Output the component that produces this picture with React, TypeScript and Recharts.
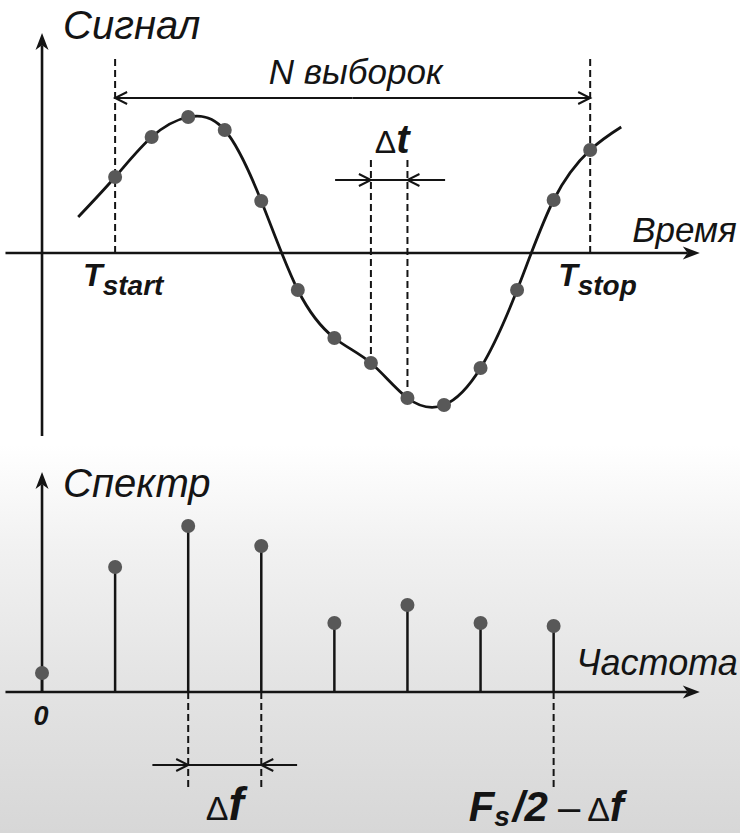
import React from "react";
import {
  ComposedChart,
  Area,
  Scatter,
  XAxis,
  YAxis,
  ReferenceLine,
  ReferenceDot,
} from "recharts";

// --- time domain: 14 samples (index, level) ---
const sampleIdx = [0, 1, 2, 3, 4, 5, 6, 7, 8, 9, 10, 11, 12, 13];
const sampleVal = [0.76, 1.16, 1.36, 1.23, 0.52, -0.37, -0.85, -1.1, -1.45, -1.52, -1.15, -0.37, 0.53, 1.03];
// where the drawn curve begins and ends (outside the sampled window)
const curveStart = { t: -1.01, v: 0.36 };
const curveEnd = { t: 13.85, v: 1.26 };

// --- frequency domain: 8 bins ---
const binIdx = [0, 1, 2, 3, 4, 5, 6, 7];
const binVal = [0.19, 1.25, 1.66, 1.46, 0.69, 0.87, 0.69, 0.66];

const samples = sampleIdx.map((t, i) => ({ t, v: sampleVal[i] }));
const curve = [curveStart, ...samples, curveEnd];
const bins = binIdx.map((f, i) => ({ f, v: binVal[i] }));

const INK = "#141414";
const DOT = "#585858";
const FONT = "'Liberation Sans', Arial, Helvetica, sans-serif";

// filled arrow head at (x2, y2)
const axisArrow = (p: any) => {
  const { x1, y1, x2, y2 } = p;
  const a = Math.atan2(y2 - y1, x2 - x1);
  const c = Math.cos(a), s = Math.sin(a);
  const L = 17, W = 6.5;
  const bx = x2 - L * c, by = y2 - L * s;
  const nx = x2 - L * 0.72 * c, ny = y2 - L * 0.72 * s;
  return (
    <g>
      <line x1={x1} y1={y1} x2={nx} y2={ny} stroke={INK} strokeWidth={2.6} />
      <polygon
        points={`${x2},${y2} ${bx - s * W},${by + c * W} ${nx},${ny} ${bx + s * W},${by - c * W}`}
        fill={INK}
      />
    </g>
  );
};

// open chevron at (x2, y2)
const openArrow = (p: any) => {
  const { x1, y1, x2, y2 } = p;
  const a = Math.atan2(y2 - y1, x2 - x1);
  const c = Math.cos(a), s = Math.sin(a);
  const L = 12, W = 6;
  const bx = x2 - L * c, by = y2 - L * s;
  return (
    <g stroke={INK} strokeWidth={2} fill="none">
      <line x1={x1} y1={y1} x2={x2} y2={y2} />
      <polyline points={`${bx - s * W},${by + c * W} ${x2},${y2} ${bx + s * W},${by - c * W}`} />
    </g>
  );
};

const plainLine = (p: any) => (
  <line x1={p.x1} y1={p.y1} x2={p.x2} y2={p.y2} stroke={INK} strokeWidth={2} />
);

const note = (render: (x: number, y: number) => React.ReactElement) => (p: any) => render(p.cx, p.cy);

const dotShape = (p: any) => <circle cx={p.cx} cy={p.cy} r={7} fill={DOT} />;

const dash = { stroke: INK, strokeWidth: 2, strokeDasharray: "7 4" };

export default function App() {
  return (
    <div
      style={{
        position: "absolute",
        left: 0,
        top: 0,
        width: 740,
        height: 833,
        background: "#fff",
        fontFamily: FONT,
      }}
    >
      <ComposedChart width={740} height={445} margin={{ top: 0, right: 0, bottom: 0, left: 0 }}>
        <XAxis type="number" dataKey="t" domain={[-3.15, 17.1]} allowDataOverflow hide />
        <YAxis type="number" dataKey="v" domain={[-1.92, 2.53]} allowDataOverflow hide />

        <ReferenceLine segment={[{ x: -3, y: 0 }, { x: 16, y: 0 }]} shape={axisArrow} />
        <ReferenceLine segment={[{ x: -2, y: -1.83 }, { x: -2, y: 2.2 }]} shape={axisArrow} />

        <ReferenceLine segment={[{ x: 0, y: 0 }, { x: 0, y: 1.95 }]} {...dash} />
        <ReferenceLine segment={[{ x: 13, y: 0 }, { x: 13, y: 1.95 }]} {...dash} />
        <ReferenceLine segment={[{ x: 7, y: 0.93 }, { x: 7, y: sampleVal[7] }]} {...dash} />
        <ReferenceLine segment={[{ x: 8, y: 0.93 }, { x: 8, y: sampleVal[8] }]} {...dash} />

        <ReferenceLine segment={[{ x: 6.5, y: 1.55 }, { x: 0, y: 1.55 }]} shape={openArrow} />
        <ReferenceLine segment={[{ x: 6.5, y: 1.55 }, { x: 13, y: 1.55 }]} shape={openArrow} />
        <ReferenceLine segment={[{ x: 6.02, y: 0.73 }, { x: 7, y: 0.73 }]} shape={openArrow} />
        <ReferenceLine segment={[{ x: 7, y: 0.73 }, { x: 8, y: 0.73 }]} shape={plainLine} />
        <ReferenceLine segment={[{ x: 9.03, y: 0.73 }, { x: 8, y: 0.73 }]} shape={openArrow} />

        <Area
          data={curve}
          dataKey="v"
          type="natural"
          stroke={INK}
          strokeWidth={2.8}
          fill="none"
          dot={false}
          activeDot={false}
          isAnimationActive={false}
        />
        <Scatter data={samples} dataKey="v" shape={dotShape} isAnimationActive={false} />

        <ReferenceDot
          x={-2}
          y={2.2}
          r={0}
          shape={note((x, y) => (
            <text x={x + 21} y={y + 6} fontSize={40} fontStyle="italic" fill={INK} fontFamily={FONT}>
              Сигнал
            </text>
          ))}
        />
        <ReferenceDot
          x={16}
          y={0}
          r={0}
          shape={note((x, y) => (
            <text x={x + 37} y={y - 11} fontSize={35} fontStyle="italic" fill={INK} textAnchor="end" fontFamily={FONT}>
              Время
            </text>
          ))}
        />
        <ReferenceDot
          x={6.5}
          y={1.55}
          r={0}
          shape={note((x, y) => (
            <text x={x + 3} y={y - 14} fontSize={35} fontStyle="italic" fill={INK} textAnchor="middle" fontFamily={FONT}>
              N выборок
            </text>
          ))}
        />
        <ReferenceDot
          x={7.5}
          y={0.73}
          r={0}
          shape={note((x, y) => (
            <text x={x + 3} y={y - 27} fill={INK} textAnchor="middle" fontFamily={FONT}>
              <tspan fontSize={32}>Δ</tspan>
              <tspan fontSize={40} fontWeight="bold" fontStyle="italic">t</tspan>
            </text>
          ))}
        />
        {[
          { t: 0, sub: "start" },
          { t: 13, sub: "stop" },
        ].map((m) => (
          <ReferenceDot
            key={m.sub}
            x={m.t}
            y={0}
            r={0}
            shape={note((x, y) => (
              <text x={x - 32} y={y + 33} fill={INK} fontWeight="bold" fontStyle="italic" fontFamily={FONT}>
                <tspan fontSize={32}>T</tspan>
                <tspan fontSize={28} dy={9}>{m.sub}</tspan>
              </text>
            ))}
          />
        ))}
      </ComposedChart>

      <div
        style={{
          width: 740,
          height: 388,
          background: "linear-gradient(to bottom, #ffffff 0%, #f2f2f2 25%, #e4e4e4 60%, #d7d7d7 100%)",
        }}
      >
        <ComposedChart width={740} height={388} margin={{ top: 0, right: 0, bottom: 0, left: 0 }}>
          <XAxis type="number" dataKey="f" domain={[-0.575, 9.55]} allowDataOverflow hide />
          <YAxis type="number" dataKey="v" domain={[-1.41, 2.47]} allowDataOverflow hide />

          <ReferenceLine segment={[{ x: -0.5, y: 0 }, { x: 9, y: 0 }]} shape={axisArrow} />
          <ReferenceLine segment={[{ x: 0, y: 0 }, { x: 0, y: 2.2 }]} shape={axisArrow} />

          {bins.map((b) => (
            <ReferenceLine
              key={b.f}
              segment={[{ x: b.f, y: 0 }, { x: b.f, y: b.v }]}
              stroke={INK}
              strokeWidth={2.5}
            />
          ))}

          <ReferenceLine segment={[{ x: 2, y: 0 }, { x: 2, y: -0.98 }]} {...dash} />
          <ReferenceLine segment={[{ x: 3, y: 0 }, { x: 3, y: -0.98 }]} {...dash} />
          <ReferenceLine segment={[{ x: 7, y: 0 }, { x: 7, y: -0.98 }]} {...dash} />

          <ReferenceLine segment={[{ x: 1.51, y: -0.73 }, { x: 2, y: -0.73 }]} shape={openArrow} />
          <ReferenceLine segment={[{ x: 2, y: -0.73 }, { x: 3, y: -0.73 }]} shape={plainLine} />
          <ReferenceLine segment={[{ x: 3.49, y: -0.73 }, { x: 3, y: -0.73 }]} shape={openArrow} />

          <Scatter data={bins} dataKey="v" shape={dotShape} isAnimationActive={false} />

          <ReferenceDot
            x={0}
            y={2.2}
            r={0}
            shape={note((x, y) => (
              <text x={x + 21} y={y + 25} fontSize={40} fontStyle="italic" fill={INK} fontFamily={FONT}>
                Спектр
              </text>
            ))}
          />
          <ReferenceDot
            x={9}
            y={0}
            r={0}
            shape={note((x, y) => (
              <text x={x + 38} y={y - 17} fontSize={36} fontStyle="italic" fill={INK} textAnchor="end" fontFamily={FONT}>
                Частота
              </text>
            ))}
          />
          <ReferenceDot
            x={0}
            y={0}
            r={0}
            shape={note((x, y) => (
              <text x={x - 1} y={y + 33} fontSize={27} fontWeight="bold" fontStyle="italic" fill={INK} textAnchor="middle" fontFamily={FONT}>
                0
              </text>
            ))}
          />
          <ReferenceDot
            x={2.5}
            y={-0.73}
            r={0}
            shape={note((x, y) => (
              <text x={x} y={y + 55} fill={INK} textAnchor="middle" fontFamily={FONT}>
                <tspan fontSize={34}>Δ</tspan>
                <tspan fontSize={46} fontWeight="bold" fontStyle="italic">f</tspan>
              </text>
            ))}
          />
          <ReferenceDot
            x={7}
            y={0}
            r={0}
            shape={note((x, y) => (
              <text x={x - 85} y={y + 129} fill={INK} fontFamily={FONT}>
                <tspan fontSize={42} fontWeight="bold" fontStyle="italic">F</tspan>
                <tspan fontSize={28} fontWeight="bold" fontStyle="italic" dy={5}>s</tspan>
                <tspan fontSize={42} fontWeight="bold" fontStyle="italic" dy={-5} dx={3}>/2</tspan>
                <tspan fontSize={40} dx={10}>–</tspan>
                <tspan fontSize={34} dx={7}>Δ</tspan>
                <tspan fontSize={42} fontWeight="bold" fontStyle="italic">f</tspan>
              </text>
            ))}
          />
        </ComposedChart>
      </div>
    </div>
  );
}
